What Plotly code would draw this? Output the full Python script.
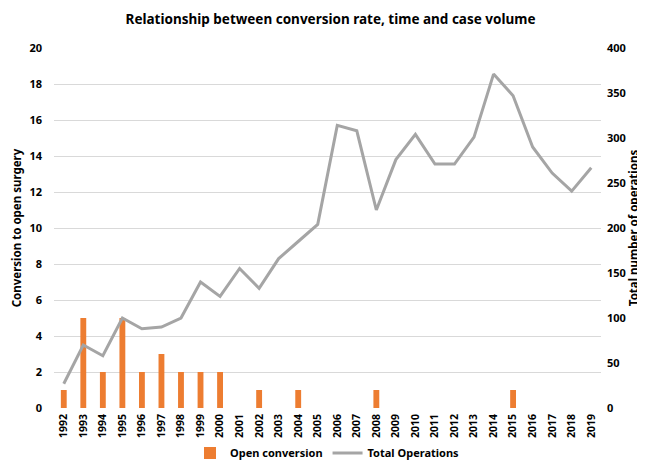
import plotly.graph_objects as go

years = [str(y) for y in range(1992, 2020)]
open_conversion = [1, 5, 2, 5, 2, 3, 2, 2, 2, 0, 1, 0, 1, 0, 0, 0, 1, 0, 0, 0, 0, 0, 0, 1, 0, 0, 0, 0]
total_operations = [27, 70, 58, 100, 88, 90, 100, 140, 124, 155, 133, 166, 185, 204, 314, 308,
                    220, 276, 304, 271, 271, 301, 371, 347, 290, 261, 241, 267]

FONT = "Noto Sans"

fig = go.Figure()
fig.add_trace(go.Bar(
    x=years, y=open_conversion, name="Open conversion",
    marker=dict(color="#ED7D31", line=dict(width=0)), width=0.3, yaxis="y",
))
fig.add_trace(go.Scatter(
    x=years, y=total_operations, name="Total Operations", mode="lines",
    line=dict(color="#A5A5A5", width=3), yaxis="y2",
))

fig.update_layout(
    width=645, height=461,
    margin=dict(l=46, r=52, t=40, b=61, autoexpand=False),
    paper_bgcolor="white", plot_bgcolor="white",
    font=dict(family=FONT, size=11, color="#000000"),
    title=dict(text="<b>Relationship between conversion rate, time and case volume</b>",
               x=0.5, xanchor="center", y=0.985, yanchor="top",
               font=dict(family=FONT, size=13.5, color="#000000")),
    xaxis=dict(type="category", tickangle=-90, showgrid=False, showline=False,
               automargin=False, ticks="", ticklabelstandoff=3,
               tickfont=dict(family=FONT, size=10.5, color="#000000", weight="bold")),
    yaxis=dict(range=[0, 20], dtick=2, showgrid=True, gridcolor="#D9D9D9", gridwidth=1,
               zeroline=False, ticks="", showline=False, automargin=False,
               ticklabelstandoff=11,
               tickfont=dict(family=FONT, size=11, weight="bold"),
               title=dict(text="<b>Conversion to open surgery</b>", standoff=5,
                          font=dict(family=FONT, size=11.5))),
    yaxis2=dict(range=[0, 400], dtick=50, overlaying="y", side="right", showgrid=False,
                zeroline=False, ticks="", showline=False, automargin=False,
                ticklabelstandoff=5,
                tickfont=dict(family=FONT, size=11, weight="bold"),
                title=dict(text="<b>Total number of operations</b>", standoff=2,
                           font=dict(family=FONT, size=11.5))),
    legend=dict(orientation="h", x=0.5, xanchor="center", y=-0.125, yanchor="middle",
                font=dict(family=FONT, size=11, weight="bold"), bgcolor="rgba(0,0,0,0)",
                tracegroupgap=0, itemwidth=30),
    bargap=0.7,
)

fig.write_html("out.html")
